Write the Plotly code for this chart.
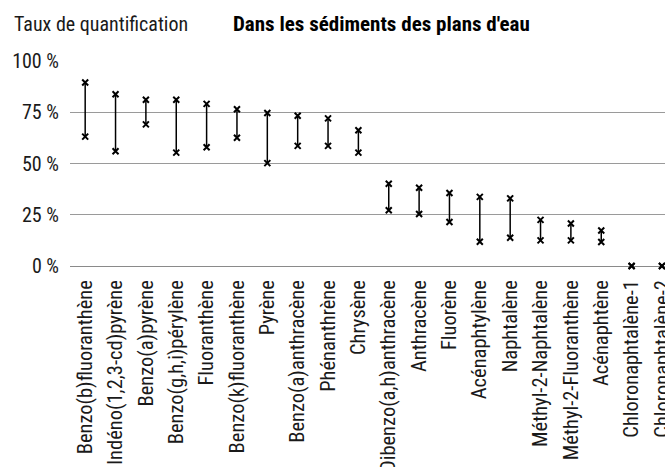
import plotly.graph_objects as go

categories = [
    "Benzo(b)fluoranthène", "Indéno(1,2,3-cd)pyrène", "Benzo(a)pyrène",
    "Benzo(g,h,i)pérylène", "Fluoranthène", "Benzo(k)fluoranthène", "Pyrène",
    "Benzo(a)anthracène", "Phénanthrène", "Chrysène", "Dibenzo(a,h)anthracène",
    "Anthracène", "Fluorène", "Acénaphtylène", "Naphtalène",
    "Méthyl-2-Naphtalène", "Méthyl-2-Fluoranthène", "Acénaphtène",
    "Chloronaphtalène-1", "Chloronaphtalène-2",
]
# quantification rate range (%) per substance
rate_high = [89.5, 83.8, 81.1, 81.1, 79.1, 76.5, 74.6, 73.3, 72.0, 66.2,
             40.1, 38.2, 35.6, 33.7, 33.0, 22.5, 20.7, 17.3, 0, 0]
rate_low = [63.1, 56.0, 69.1, 55.3, 57.9, 62.6, 50.2, 58.6, 58.6, 55.3,
            27.2, 25.4, 21.5, 11.8, 13.8, 12.5, 12.5, 11.7, 0, 0]
y_ticks = [0, 25, 50, 75, 100]
y_tick_labels = ["0 %", "25 %", "50 %", "75 %", "100 %"]

FONT = "Liberation Sans Narrow, Arial Narrow, Roboto Condensed, sans-serif"
GRID = "#9a9a9a"

xs, ys = [], []
for c, lo, hi in zip(categories, rate_low, rate_high):
    xs += [c, c, None]
    ys += [lo, hi, None]

fig = go.Figure()
fig.add_trace(go.Scatter(
    x=xs, y=ys, mode="lines+markers",
    line=dict(color="black", width=1.5),
    marker=dict(symbol="x-thin", size=6, color="black",
                line=dict(color="black", width=2)),
    connectgaps=False, showlegend=False, hoverinfo="skip",
    cliponaxis=False,
))

W, H = 665, 467
l, r, t, b = 70, 0, 61, 201

fig.update_layout(
    width=W, height=H,
    margin=dict(l=l, r=r, t=t, b=b),
    paper_bgcolor="white", plot_bgcolor="white",
    font=dict(family=FONT, size=20, color="#1a1a1a"),
    xaxis=dict(
        type="category", categoryorder="array", categoryarray=categories,
        range=[-0.5, 19.1], tickangle=-90, showgrid=False,
        ticks="", ticklabelstandoff=9, automargin=False,
        showline=False, zeroline=False,
        tickfont=dict(family=FONT, size=20.5, color="#1a1a1a"),
    ),
    yaxis=dict(
        range=[0, 100], tickvals=y_ticks, ticktext=y_tick_labels,
        showgrid=True, gridcolor=GRID, gridwidth=1.3,
        zeroline=True, zerolinecolor="#8a8a8a", zerolinewidth=1.3,
        showline=False, ticks="", ticklabelstandoff=10,
        automargin=False,
        tickfont=dict(family=FONT, size=20, color="#1a1a1a"),
    ),
)

# header texts placed in pixel coordinates
pw, ph = W - l - r, H - t - b
def header(text, px, py, size, color):
    fig.add_annotation(
        text=text, x=(px - l) / pw, y=(H - b - py) / ph,
        xref="paper", yref="paper", showarrow=False,
        xanchor="left", yanchor="middle",
        font=dict(family=FONT, size=size, color=color),
    )

header("Taux de quantification", 12, 24, 20, "#1a1a1a")
header("<b>Dans les sédiments des plans d'eau</b>", 231, 24, 21, "#000000")

fig.write_html("out.html")
